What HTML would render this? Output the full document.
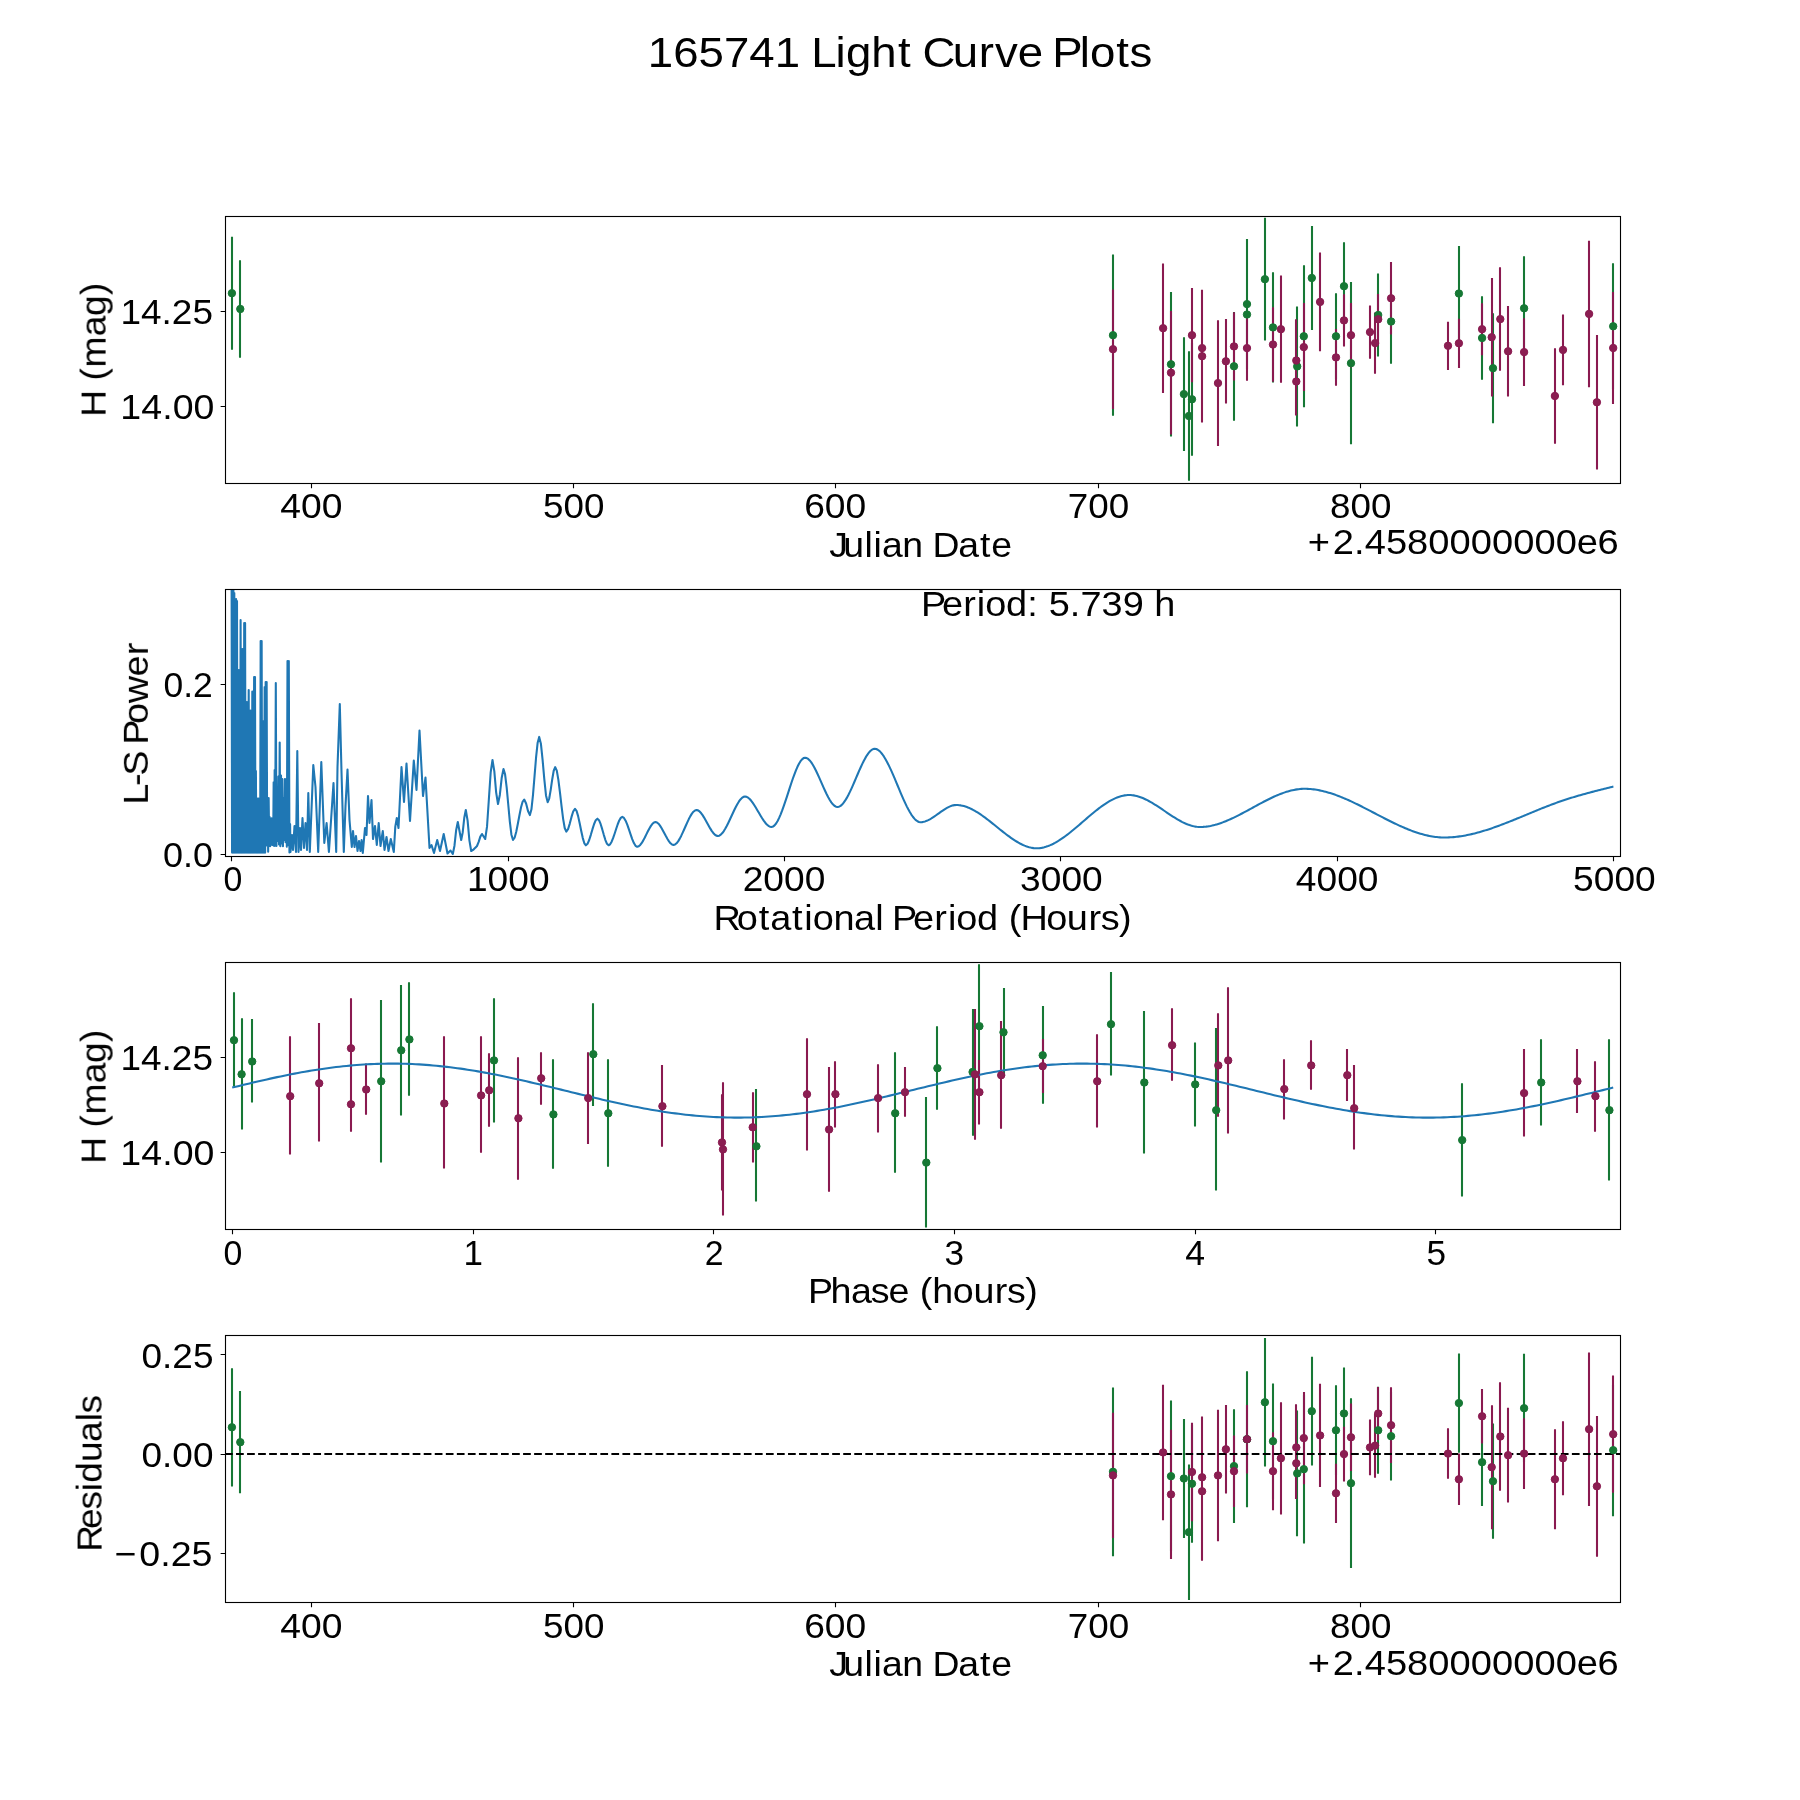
<!DOCTYPE html><html><head><meta charset="utf-8"><title>165741 Light Curve Plots</title>
<style>html,body{margin:0;padding:0;background:#fff;width:1800px;height:1800px;overflow:hidden}svg{display:block}text{font-family:"Liberation Sans",sans-serif;fill:#000}</style></head><body>
<svg width="1800" height="1800" viewBox="0 0 1800 1800">
<rect width="1800" height="1800" fill="#fff"/>
<defs>
<clipPath id="c0"><rect x="225" y="216.0" width="1395" height="266.54"/></clipPath>
<clipPath id="c1"><rect x="225" y="589.15" width="1395" height="266.5400000000001"/></clipPath>
<clipPath id="c2"><rect x="225" y="962.31" width="1395" height="266.53999999999996"/></clipPath>
<clipPath id="c3"><rect x="225" y="1335.46" width="1395" height="266.53999999999996"/></clipPath>
</defs>
<g class="plot">
<path d="M232 236.7V349.7M240 260.2V357.8M1113 254.6V415.8M1171 292.1V436.5M1184 337.3V450.9M1189 351.3V480.7M1192 342.9V455.7M1234 311.9V420.7M1247 239.1V369.1M1247 264.5V364.5M1265 217.8V340.6M1273 272.2V382.6M1297 306.4V426.4M1304 265.3V407.3M1312 226.1V329.9M1336 293.2V379.4M1344 242.2V330.2M1351 282.1V444.3M1378 273.4V356.6M1391 279.3V363.7M1459 246.1V340.9M1482 296.25V379.75M1493 313.2V423.2M1524 256.2V360.4M1613 263.2V389.4" stroke="#167835" stroke-width="2.08" fill="none" clip-path="url(#c0)"/>
<path d="M1113 289.4V409M1163 263.5V392.9M1171 311V434.4M1192 288.1V382.3M1202 290.1V406.1M1202 289.8V422.6M1218 320.3V445.9M1226 319.1V403.5M1234 312.3V380.5M1247 315.4V380.8M1273 307.2V381.8M1281 275.6V382.8M1296 319.2V401.8M1296 347.4V415.6M1304 303.1V391.1M1320 252.5V351.3M1336 329.1V385.7M1344 294.2V346.6M1351 303V367.4M1370 305.4V358.8M1378 294V344.6M1375 312.4V373.8M1391 262.1V334.5M1448 321.7V369.9M1459 318.7V367.9M1482 303.2V355.2M1492 278V396.4M1500 267.35V370.85M1508 306.05V396.55M1524 318.3V385.9M1555 348.2V443.8M1563 314.5V385.3M1589 240.65V387.15M1597 335.05V469.55M1613 292V404" stroke="#8a1a50" stroke-width="2.08" fill="none" clip-path="url(#c0)"/>
<g fill="#167834" stroke="#167835" stroke-width="1.0" clip-path="url(#c0)">
<circle cx="231.9" cy="293.2" r="3.7"/>
<circle cx="240.3" cy="309" r="3.7"/>
<circle cx="1113" cy="335.2" r="3.7"/>
<circle cx="1171" cy="364.3" r="3.7"/>
<circle cx="1183.9" cy="394.1" r="3.7"/>
<circle cx="1188.9" cy="416" r="3.7"/>
<circle cx="1192" cy="399.3" r="3.7"/>
<circle cx="1234" cy="366.3" r="3.7"/>
<circle cx="1247" cy="304.1" r="3.7"/>
<circle cx="1247" cy="314.5" r="3.7"/>
<circle cx="1264.9" cy="279.2" r="3.7"/>
<circle cx="1273" cy="327.4" r="3.7"/>
<circle cx="1297.2" cy="366.4" r="3.7"/>
<circle cx="1303.8" cy="336.3" r="3.7"/>
<circle cx="1311.8" cy="278" r="3.7"/>
<circle cx="1336" cy="336.3" r="3.7"/>
<circle cx="1344" cy="286.2" r="3.7"/>
<circle cx="1351" cy="363.2" r="3.7"/>
<circle cx="1378.2" cy="315" r="3.7"/>
<circle cx="1391.1" cy="321.5" r="3.7"/>
<circle cx="1458.9" cy="293.5" r="3.7"/>
<circle cx="1482.1" cy="338" r="3.7"/>
<circle cx="1493" cy="368.2" r="3.7"/>
<circle cx="1524.1" cy="308.3" r="3.7"/>
<circle cx="1613.2" cy="326.3" r="3.7"/>
</g>
<g fill="#8b1e52" stroke="#8a1a50" stroke-width="1.0" clip-path="url(#c0)">
<circle cx="1113" cy="349.2" r="3.7"/>
<circle cx="1163.1" cy="328.2" r="3.7"/>
<circle cx="1171" cy="372.7" r="3.7"/>
<circle cx="1192" cy="335.2" r="3.7"/>
<circle cx="1202.1" cy="348.1" r="3.7"/>
<circle cx="1202.1" cy="356.2" r="3.7"/>
<circle cx="1218" cy="383.1" r="3.7"/>
<circle cx="1225.9" cy="361.3" r="3.7"/>
<circle cx="1234" cy="346.4" r="3.7"/>
<circle cx="1247" cy="348.1" r="3.7"/>
<circle cx="1273" cy="344.5" r="3.7"/>
<circle cx="1280.9" cy="329.2" r="3.7"/>
<circle cx="1296.3" cy="360.5" r="3.7"/>
<circle cx="1296.3" cy="381.5" r="3.7"/>
<circle cx="1303.8" cy="347.1" r="3.7"/>
<circle cx="1320.1" cy="301.9" r="3.7"/>
<circle cx="1336" cy="357.4" r="3.7"/>
<circle cx="1344" cy="320.4" r="3.7"/>
<circle cx="1351" cy="335.2" r="3.7"/>
<circle cx="1370" cy="332.1" r="3.7"/>
<circle cx="1378.2" cy="319.3" r="3.7"/>
<circle cx="1375.1" cy="343.1" r="3.7"/>
<circle cx="1391.1" cy="298.3" r="3.7"/>
<circle cx="1448" cy="345.8" r="3.7"/>
<circle cx="1458.9" cy="343.3" r="3.7"/>
<circle cx="1482.1" cy="329.2" r="3.7"/>
<circle cx="1491.7" cy="337.2" r="3.7"/>
<circle cx="1500.3" cy="319.1" r="3.7"/>
<circle cx="1508.1" cy="351.3" r="3.7"/>
<circle cx="1524.1" cy="352.1" r="3.7"/>
<circle cx="1554.9" cy="396" r="3.7"/>
<circle cx="1563" cy="349.9" r="3.7"/>
<circle cx="1589.1" cy="313.9" r="3.7"/>
<circle cx="1596.9" cy="402.3" r="3.7"/>
<circle cx="1613.2" cy="348" r="3.7"/>
</g>
<path d="M231.6 584.04L232.05 852.6L232.5 584.04L232.95 852.6L233.4 584.04L233.85 852.6L234.3 593.04L234.75 852.6L235.2 599.04L235.65 852.6L236.1 599.04L236.55 852.6L237 601.04L237.45 852.6L237.9 670.04L238.35 852.6L238.8 670.04L239.25 852.6L239.7 670.04L240.15 852.6L240.6 620.04L241.05 852.6L241.5 649.04L241.95 852.6L242.4 649.04L242.85 852.6L243.3 649.04L243.75 852.6L244.2 623.04L244.65 852.6L245.1 623.04L245.55 852.6L246 702.04L246.45 852.6L246.9 702.04L247.35 852.6L247.8 702.04L248.25 852.6L248.7 690.04L249.15 852.6L249.6 710.54L250.05 852.6L250.5 710.54L250.95 852.6L251.4 710.54L251.85 852.6L252.3 691.44L252.75 852.6L253.2 691.44L253.65 852.6L254.1 677.04L254.55 852.6L255 677.04L255.45 852.6L255.9 771.04L256.35 852.6L256.8 798.54L257.25 852.6L257.7 798.54L258.15 852.6L258.65 798.54L259.15 852.6L259.65 812.2L260.15 852.6L260.65 641.04L261.15 852.6L261.65 641.04L262.15 852.6L262.65 721.04L263.15 852.6L263.65 721.04L264.15 852.6L264.65 687.04L265.15 852.6L265.65 682.04L266.15 845.6L266.65 682.04L267.15 841.35L267.65 798.04L268.15 851.68L268.65 798.04L269.15 839.87L269.65 817.04L270.15 846.27L270.65 832.64L271.15 844.19L271.65 818.24L272.15 844.92L272.65 820.54L273.15 845.27L273.65 782.34L274.15 846.05L274.65 770.04L275.15 845.73L275.8 683.04L276.45 845.92L277.1 808.04L277.75 840.87L278.4 776.52L279.05 844.58L279.7 742.54L280.35 846.26L281 775.54L281.65 843.4L282.3 779.04L282.95 846.17L283.6 798.47L284.25 839.91L284.9 779.04L285.55 842.22L286.2 779.04L286.85 846.63L287.5 661.04L288.15 845.28L288.8 661.04L289.45 852.58L290.1 824.04L290.5 852L292 835L293 850L294.5 826L296 852L297.3 751L298.5 852L300 828L301 850L302.5 818L304 848L305.5 823L307 850L308.3 793L309.8 852L313.3 765L315.5 787L318.2 852L321.3 762L324.3 843L326.6 823L328.9 852L331.2 818L333.5 783L336.2 852L337.5 767L339.8 704L341.5 772L343.8 852L345.5 806L347.5 769.5L349.5 820L351.8 847L353 831L354.5 847L356 836L357.5 851L359 841L360.5 851L361.6 840L362.8 853L365 828L366.5 835L368 796L369.5 823L371.5 800L373 839L375 826L376.8 845L378.7 823L380.5 846L382.8 831L384.5 850L386.5 837L388.5 851L390.8 839L393.8 852L395.3 826.63L396.8 818L397.65 823L398.5 828L400 797.5L401.5 767L402.75 784.5L404 802L405.25 782.75L406.5 763.5L408.25 792.25L410 821L411.9 790.75L413.8 760.5L415.15 775.25L416.5 790L418 760.25L419.5 730.5L421.25 763.25L423 796L424.25 786.75L425.5 777.5L427.5 812.75L429.5 848L430.5 846.5L431.5 845L432.75 849L434 853L435.6 846.5L437.2 840L438.6 845.5L440 851L441.85 842.5L443.7 834L445.6 843.75L447.5 853.5L449 852L450.5 850.5L451.65 852.25L452.8 854L454.47 845.7L456.13 830.3L457.8 822L459.5 831L461.2 840L462.73 832.22L464.27 817.78L465.8 810L467.6 820.63L469.4 840.37L471.2 851L473.1 849.92L475 848L476 847.11L477 846L478.67 841.9L480.33 836.62L482 834L483.6 836.5L485.2 839L487.02 826.66L488.85 799.5L490.68 772.34L492.5 760L494.33 771.41L496.17 792.59L498 804L499.83 794.93L501.67 778.07L503.5 769L505.08 774.26L506.67 787.41L508.25 804.5L509.83 821.59L511.42 834.74L513 840L514.6 837.76L516.2 831.97L517.8 824.06L519.4 815.44L521 807.53L522.6 801.74L524.2 799.5L526.1 803.54L528 811.06L529.9 815.1L531.45 809.31L533 794.83L534.55 776L536.1 757.17L537.65 742.69L539.2 736.9L540.9 743.69L542.6 759.89L544.3 779.21L546 795.41L547.7 802.2L549.2 798.55L550.7 789.84L552.2 779.46L553.7 770.75L555.2 767.1L556.79 770.67L558.37 779.89L559.96 792.49L561.54 806.21L563.13 818.81L564.71 828.03L566.3 831.6L568.04 829.24L569.78 823.61L571.52 816.89L573.26 811.26L575 808.9L576.56 810.92L578.11 816.12L579.67 823.23L581.23 830.97L582.79 838.08L584.34 843.28L585.9 845.3L587.54 843.83L589.19 840.03L590.83 834.83L592.47 829.17L594.11 823.97L595.76 820.17L597.4 818.7L599 820.17L600.6 823.97L602.2 829.17L603.8 834.83L605.4 840.03L607 843.83L608.6 845.3L610.12 844.33L611.64 841.72L613.17 837.94L614.69 833.46L616.21 828.74L617.73 824.26L619.26 820.48L620.78 817.87L622.3 816.9L623.96 817.93L625.61 820.67L627.27 824.65L628.92 829.37L630.58 834.33L632.23 839.05L633.89 843.03L635.54 845.77L637.2 846.8L638.73 846.31L640.25 844.96L641.78 842.92L643.3 840.37L644.83 837.47L646.35 834.4L647.88 831.33L649.4 828.43L650.92 825.88L652.45 823.84L653.98 822.49L655.5 822L657 822.45L658.5 823.7L660 825.59L661.5 827.96L663 830.65L664.5 833.5L666 836.35L667.5 839.04L669 841.41L670.5 843.3L672 844.55L673.5 845L675.03 844.55L676.57 843.3L678.1 841.36L679.63 838.86L681.17 835.93L682.7 832.68L684.23 829.25L685.77 825.75L687.3 822.32L688.83 819.07L690.37 816.14L691.9 813.64L693.43 811.7L694.97 810.45L696.5 810L698.02 810.38L699.54 811.44L701.06 813.07L702.59 815.15L704.11 817.58L705.63 820.23L707.15 823L708.67 825.77L710.19 828.42L711.71 830.85L713.24 832.93L714.76 834.56L716.28 835.62L717.8 836L719.31 835.65L720.82 834.65L722.33 833.07L723.84 831.02L725.36 828.55L726.87 825.76L728.38 822.72L729.89 819.53L731.4 816.25L732.91 812.97L734.42 809.78L735.93 806.74L737.44 803.95L738.96 801.48L740.47 799.43L741.98 797.85L743.49 796.85L745 796.5L746.56 796.8L748.12 797.67L749.68 799.01L751.24 800.77L752.79 802.86L754.35 805.22L755.91 807.76L757.47 810.41L759.03 813.09L760.59 815.74L762.15 818.28L763.71 820.64L765.26 822.73L766.82 824.49L768.38 825.83L769.94 826.7L771.5 827L773.03 826.58L774.55 825.39L776.08 823.49L777.61 820.96L779.14 817.89L780.66 814.35L782.19 810.42L783.72 806.17L785.25 801.7L786.77 797.06L788.3 792.35L789.83 787.64L791.35 783L792.88 778.53L794.41 774.28L795.94 770.35L797.46 766.81L798.99 763.74L800.52 761.21L802.05 759.31L803.57 758.12L805.1 757.7L806.64 758.02L808.19 758.96L809.73 760.43L811.27 762.38L812.81 764.75L814.36 767.47L815.9 770.48L817.44 773.71L818.99 777.1L820.53 780.59L822.07 784.11L823.61 787.6L825.16 790.99L826.7 794.22L828.24 797.23L829.79 799.95L831.33 802.32L832.87 804.27L834.41 805.74L835.96 806.68L837.5 807L839.05 806.71L840.6 805.85L842.15 804.5L843.7 802.69L845.25 800.47L846.8 797.91L848.35 795.03L849.9 791.91L851.45 788.59L853 785.11L854.55 781.53L856.1 777.9L857.65 774.27L859.2 770.69L860.75 767.21L862.3 763.89L863.85 760.77L865.4 757.89L866.95 755.33L868.5 753.11L870.05 751.3L871.6 749.95L873.15 749.09L874.7 748.8L876.23 749.04L877.75 749.74L879.28 750.86L880.81 752.37L882.33 754.24L883.86 756.43L885.39 758.92L886.91 761.67L888.44 764.65L889.97 767.83L891.49 771.17L893.02 774.64L894.55 778.2L896.07 781.84L897.6 785.5L899.13 789.16L900.65 792.8L902.18 796.36L903.71 799.83L905.23 803.17L906.76 806.35L908.29 809.33L909.81 812.08L911.34 814.57L912.87 816.76L914.39 818.63L915.92 820.14L917.45 821.26L918.97 821.96L920.5 822.2L922.06 822.11L923.61 821.83L925.17 821.4L926.73 820.82L928.28 820.11L929.84 819.3L931.4 818.39L932.95 817.4L934.51 816.36L936.07 815.27L937.62 814.16L939.18 813.04L940.73 811.93L942.29 810.84L943.85 809.8L945.4 808.81L946.96 807.9L948.52 807.09L950.07 806.38L951.63 805.8L953.19 805.37L954.74 805.09L956.3 805L957.82 805.05L959.33 805.18L960.85 805.4L962.37 805.7L963.88 806.08L965.4 806.54L966.92 807.07L968.44 807.66L969.95 808.32L971.47 809.04L972.99 809.82L974.5 810.65L976.02 811.54L977.54 812.47L979.05 813.44L980.57 814.46L982.09 815.51L983.61 816.59L985.12 817.7L986.64 818.84L988.16 820.01L989.67 821.19L991.19 822.39L992.71 823.6L994.22 824.81L995.74 826.04L997.26 827.26L998.78 828.49L1000.29 829.7L1001.81 830.91L1003.33 832.11L1004.84 833.29L1006.36 834.46L1007.88 835.6L1009.39 836.71L1010.91 837.79L1012.43 838.84L1013.95 839.86L1015.46 840.83L1016.98 841.76L1018.5 842.65L1020.01 843.48L1021.53 844.26L1023.05 844.98L1024.56 845.64L1026.08 846.23L1027.6 846.76L1029.12 847.22L1030.63 847.6L1032.15 847.9L1033.67 848.12L1035.18 848.25L1036.7 848.3L1038.22 848.26L1039.73 848.13L1041.25 847.93L1042.77 847.64L1044.28 847.28L1045.8 846.85L1047.31 846.36L1048.83 845.79L1050.35 845.16L1051.86 844.47L1053.38 843.73L1054.9 842.92L1056.41 842.07L1057.93 841.17L1059.45 840.22L1060.96 839.22L1062.48 838.19L1064 837.12L1065.51 836.01L1067.03 834.87L1068.54 833.7L1070.06 832.5L1071.58 831.28L1073.09 830.04L1074.61 828.78L1076.13 827.51L1077.64 826.22L1079.16 824.92L1080.68 823.61L1082.19 822.31L1083.71 820.99L1085.22 819.69L1086.74 818.38L1088.26 817.08L1089.77 815.79L1091.29 814.52L1092.81 813.26L1094.32 812.02L1095.84 810.8L1097.36 809.6L1098.87 808.43L1100.39 807.29L1101.9 806.18L1103.42 805.11L1104.94 804.08L1106.45 803.08L1107.97 802.13L1109.49 801.23L1111 800.38L1112.52 799.57L1114.04 798.83L1115.55 798.14L1117.07 797.51L1118.59 796.94L1120.1 796.45L1121.62 796.02L1123.13 795.66L1124.65 795.37L1126.17 795.17L1127.68 795.04L1129.2 795L1130.71 795.04L1132.21 795.17L1133.72 795.37L1135.23 795.66L1136.73 796.01L1138.24 796.43L1139.74 796.92L1141.25 797.47L1142.76 798.07L1144.26 798.73L1145.77 799.44L1147.28 800.19L1148.78 800.99L1150.29 801.83L1151.8 802.7L1153.3 803.6L1154.81 804.53L1156.31 805.49L1157.82 806.46L1159.33 807.45L1160.83 808.46L1162.34 809.47L1163.85 810.49L1165.35 811.51L1166.86 812.53L1168.37 813.54L1169.87 814.55L1171.38 815.54L1172.89 816.51L1174.39 817.47L1175.9 818.4L1177.4 819.3L1178.91 820.17L1180.42 821.01L1181.92 821.81L1183.43 822.56L1184.94 823.27L1186.44 823.93L1187.95 824.53L1189.46 825.08L1190.96 825.57L1192.47 825.99L1193.97 826.34L1195.48 826.63L1196.99 826.83L1198.49 826.96L1200 827L1201.52 826.98L1203.03 826.91L1204.55 826.79L1206.06 826.63L1207.58 826.43L1209.1 826.18L1210.61 825.9L1212.13 825.58L1213.64 825.22L1215.16 824.83L1216.68 824.4L1218.19 823.94L1219.71 823.44L1221.22 822.92L1222.74 822.37L1224.26 821.79L1225.77 821.19L1227.29 820.56L1228.8 819.91L1230.32 819.23L1231.83 818.54L1233.35 817.83L1234.87 817.1L1236.38 816.35L1237.9 815.59L1239.41 814.82L1240.93 814.03L1242.45 813.23L1243.96 812.43L1245.48 811.62L1246.99 810.8L1248.51 809.97L1250.03 809.14L1251.54 808.32L1253.06 807.48L1254.57 806.66L1256.09 805.83L1257.61 805L1259.12 804.18L1260.64 803.37L1262.15 802.57L1263.67 801.77L1265.19 800.98L1266.7 800.21L1268.22 799.45L1269.73 798.7L1271.25 797.97L1272.77 797.26L1274.28 796.57L1275.8 795.89L1277.31 795.24L1278.83 794.61L1280.34 794.01L1281.86 793.43L1283.38 792.88L1284.89 792.36L1286.41 791.86L1287.92 791.4L1289.44 790.97L1290.96 790.58L1292.47 790.22L1293.99 789.9L1295.5 789.62L1297.02 789.37L1298.54 789.17L1300.05 789.01L1301.57 788.89L1303.08 788.82L1304.6 788.8L1306.1 788.82L1307.61 788.87L1309.11 788.95L1310.61 789.06L1312.12 789.21L1313.62 789.38L1315.12 789.59L1316.63 789.82L1318.13 790.08L1319.63 790.37L1321.14 790.68L1322.64 791.02L1324.14 791.39L1325.65 791.78L1327.15 792.19L1328.65 792.63L1330.15 793.09L1331.66 793.57L1333.16 794.07L1334.66 794.59L1336.17 795.13L1337.67 795.69L1339.17 796.26L1340.68 796.86L1342.18 797.47L1343.68 798.09L1345.19 798.73L1346.69 799.39L1348.19 800.05L1349.7 800.73L1351.2 801.43L1352.7 802.13L1354.21 802.84L1355.71 803.57L1357.21 804.3L1358.72 805.04L1360.22 805.79L1361.72 806.55L1363.23 807.31L1364.73 808.08L1366.23 808.85L1367.74 809.63L1369.24 810.41L1370.74 811.19L1372.25 811.97L1373.75 812.76L1375.25 813.54L1376.75 814.33L1378.26 815.11L1379.76 815.89L1381.26 816.67L1382.77 817.45L1384.27 818.22L1385.77 818.99L1387.28 819.75L1388.78 820.51L1390.28 821.26L1391.79 822L1393.29 822.73L1394.79 823.46L1396.3 824.17L1397.8 824.87L1399.3 825.57L1400.81 826.25L1402.31 826.91L1403.81 827.57L1405.32 828.21L1406.82 828.83L1408.32 829.44L1409.83 830.04L1411.33 830.61L1412.83 831.17L1414.34 831.71L1415.84 832.23L1417.34 832.73L1418.85 833.21L1420.35 833.67L1421.85 834.11L1423.35 834.52L1424.86 834.91L1426.36 835.28L1427.86 835.62L1429.37 835.93L1430.87 836.22L1432.37 836.48L1433.88 836.71L1435.38 836.92L1436.88 837.09L1438.39 837.24L1439.89 837.35L1441.39 837.43L1442.9 837.48L1444.4 837.5L1445.92 837.49L1447.43 837.45L1448.95 837.4L1450.46 837.32L1451.98 837.22L1453.49 837.09L1455.01 836.95L1456.52 836.79L1458.04 836.6L1459.55 836.4L1461.07 836.18L1462.58 835.93L1464.1 835.68L1465.61 835.4L1467.12 835.1L1468.64 834.79L1470.15 834.46L1471.67 834.12L1473.18 833.76L1474.7 833.39L1476.22 833L1477.73 832.59L1479.25 832.18L1480.76 831.75L1482.28 831.3L1483.79 830.85L1485.31 830.38L1486.82 829.9L1488.34 829.41L1489.85 828.91L1491.37 828.4L1492.88 827.87L1494.39 827.34L1495.91 826.8L1497.42 826.25L1498.94 825.7L1500.45 825.13L1501.97 824.56L1503.48 823.98L1505 823.4L1506.51 822.81L1508.01 822.22L1509.52 821.62L1511.02 821.02L1512.53 820.42L1514.03 819.81L1515.54 819.2L1517.04 818.58L1518.55 817.96L1520.06 817.34L1521.56 816.72L1523.07 816.1L1524.57 815.47L1526.08 814.85L1527.58 814.22L1529.09 813.6L1530.59 812.97L1532.1 812.35L1533.61 811.73L1535.11 811.11L1536.62 810.49L1538.12 809.88L1539.63 809.27L1541.13 808.66L1542.64 808.06L1544.14 807.46L1545.65 806.87L1547.16 806.28L1548.66 805.69L1550.17 805.12L1551.67 804.54L1553.18 803.98L1554.68 803.42L1556.19 802.87L1557.69 802.33L1559.2 801.8L1560.71 801.28L1562.21 800.76L1563.72 800.25L1565.22 799.75L1566.73 799.26L1568.23 798.78L1569.74 798.3L1571.24 797.83L1572.75 797.37L1574.26 796.92L1575.76 796.47L1577.27 796.03L1578.77 795.59L1580.28 795.16L1581.78 794.73L1583.29 794.31L1584.79 793.89L1586.3 793.48L1587.81 793.08L1589.31 792.67L1590.82 792.27L1592.32 791.88L1593.83 791.49L1595.33 791.1L1596.84 790.71L1598.34 790.33L1599.85 789.95L1601.36 789.57L1602.86 789.2L1604.37 788.82L1605.87 788.45L1607.38 788.08L1608.88 787.71L1610.39 787.34L1611.89 786.97L1613.4 786.6" fill="none" stroke="#1f77b4" stroke-width="2.08" stroke-linejoin="round" clip-path="url(#c1)"/>
<path d="M234 992.3V1086.4M242 1018.3V1129.5M252 1019.1V1102.4M381 1000.1V1162.6M401 985V1115.5M409 982.2V1095.7M494 998.2V1122.6M553 1059.2V1168.8M593 1003.2V1105.9M608 1059.2V1166.8M756 1089.1V1201.5M895 1052.2V1172.7M926 1097V1227.5M937 1026.2V1109.7M973 1009.1V1135.7M979 964.3V1088.1M1004 988.1V1076.5M1043 1006V1103.8M1111 972.1V1075.5M1144 1011V1153.6M1195 1042.4V1126.5M1216 1028.1V1190.6M1462 1083.3V1196.5M1541 1039.3V1125.6M1609 1039.3V1180.5" stroke="#167835" stroke-width="2.08" fill="none" clip-path="url(#c2)"/>
<path d="M290 1036.2V1154.5M319 1023.1V1141.6M351 998.2V1098.4M351 1076.8V1131.8M366 1063.4V1114.7M444 1036.2V1168.5M481 1036.2V1152.8M489 1053.3V1126.8M518 1057.3V1179.7M541 1052.2V1104.8M588 1052.2V1144M662 1065.1V1146.8M722 1094.2V1190.6M723 1082.2V1215.5M753 1092.2V1162.6M807 1038.2V1150.6M829 1067V1191.7M835 1061.2V1127.6M878 1064.2V1132.6M905 1067V1116.7M975 1009.1V1139.8M979 1060V1124.5M1001 1021.1V1128.7M1043 1039V1093.1M1097 1034.3V1127.6M1172 1008.2V1080.7M1218 1013.3V1116.7M1228 987.2V1133.5M1284 1059.2V1119.5M1311 1040.2V1089.7M1347 1049.1V1100.9M1354 1065.1V1149.4M1524 1049.1V1136.5M1577 1049.1V1112.9M1595 1061.2V1131.8" stroke="#8a1a50" stroke-width="2.08" fill="none" clip-path="url(#c2)"/>
<path d="M232.2 1087.58L235.66 1086.73L239.12 1085.89L242.58 1085.06L246.04 1084.23L249.51 1083.41L252.97 1082.59L256.43 1081.78L259.89 1080.98L263.35 1080.19L266.81 1079.41L270.27 1078.64L273.73 1077.89L277.19 1077.14L280.66 1076.41L284.12 1075.7L287.58 1075L291.04 1074.31L294.5 1073.64L297.96 1072.99L301.42 1072.35L304.88 1071.73L308.35 1071.14L311.81 1070.56L315.27 1070L318.73 1069.46L322.19 1068.94L325.65 1068.44L329.11 1067.97L332.57 1067.52L336.03 1067.09L339.5 1066.68L342.96 1066.3L346.42 1065.94L349.88 1065.61L353.34 1065.3L356.8 1065.02L360.26 1064.76L363.72 1064.53L367.18 1064.32L370.65 1064.14L374.11 1063.98L377.57 1063.86L381.03 1063.76L384.49 1063.68L387.95 1063.63L391.41 1063.61L394.87 1063.62L398.34 1063.65L401.8 1063.71L405.26 1063.79L408.72 1063.91L412.18 1064.05L415.64 1064.21L419.1 1064.4L422.56 1064.62L426.02 1064.86L429.49 1065.13L432.95 1065.43L436.41 1065.75L439.87 1066.09L443.33 1066.46L446.79 1066.85L450.25 1067.26L453.71 1067.7L457.17 1068.17L460.64 1068.65L464.1 1069.15L467.56 1069.68L471.02 1070.23L474.48 1070.8L477.94 1071.38L481.4 1071.99L484.86 1072.62L488.33 1073.26L491.79 1073.92L495.25 1074.6L498.71 1075.29L502.17 1076L505.63 1076.72L509.09 1077.46L512.55 1078.2L516.01 1078.97L519.48 1079.74L522.94 1080.52L526.4 1081.32L529.86 1082.12L533.32 1082.93L536.78 1083.75L540.24 1084.58L543.7 1085.41L547.16 1086.25L550.63 1087.09L554.09 1087.93L557.55 1088.78L561.01 1089.63L564.47 1090.48L567.93 1091.33L571.39 1092.18L574.85 1093.03L578.32 1093.87L581.78 1094.72L585.24 1095.56L588.7 1096.39L592.16 1097.22L595.62 1098.04L599.08 1098.85L602.54 1099.66L606 1100.46L609.47 1101.24L612.93 1102.02L616.39 1102.79L619.85 1103.54L623.31 1104.28L626.77 1105.01L630.23 1105.72L633.69 1106.42L637.15 1107.1L640.62 1107.76L644.08 1108.41L647.54 1109.04L651 1109.66L654.46 1110.25L657.92 1110.83L661.38 1111.38L664.84 1111.91L668.31 1112.43L671.77 1112.92L675.23 1113.39L678.69 1113.83L682.15 1114.26L685.61 1114.66L689.07 1115.03L692.53 1115.38L695.99 1115.71L699.46 1116.01L702.92 1116.29L706.38 1116.54L709.84 1116.77L713.3 1116.97L716.76 1117.14L720.22 1117.29L723.68 1117.41L727.14 1117.51L730.61 1117.57L734.07 1117.62L737.53 1117.63L740.99 1117.62L744.45 1117.58L747.91 1117.51L751.37 1117.42L754.83 1117.3L758.3 1117.16L761.76 1116.98L765.22 1116.79L768.68 1116.56L772.14 1116.31L775.6 1116.04L779.06 1115.74L782.52 1115.41L785.98 1115.06L789.45 1114.69L792.91 1114.29L796.37 1113.87L799.83 1113.42L803.29 1112.96L806.75 1112.47L810.21 1111.96L813.67 1111.42L817.13 1110.87L820.6 1110.3L824.06 1109.71L827.52 1109.09L830.98 1108.46L834.44 1107.82L837.9 1107.15L841.36 1106.47L844.82 1105.78L848.29 1105.06L851.75 1104.34L855.21 1103.6L858.67 1102.85L862.13 1102.08L865.59 1101.31L869.05 1100.52L872.51 1099.72L875.97 1098.92L879.44 1098.1L882.9 1097.28L886.36 1096.46L889.82 1095.62L893.28 1094.78L896.74 1093.94L900.2 1093.1L903.66 1092.25L907.12 1091.4L910.59 1090.55L914.05 1089.7L917.51 1088.85L920.97 1088L924.43 1087.15L927.89 1086.31L931.35 1085.48L934.81 1084.64L938.28 1083.82L941.74 1083L945.2 1082.18L948.66 1081.38L952.12 1080.59L955.58 1079.8L959.04 1079.03L962.5 1078.27L965.96 1077.52L969.43 1076.78L972.89 1076.05L976.35 1075.35L979.81 1074.65L983.27 1073.97L986.73 1073.31L990.19 1072.67L993.65 1072.04L997.11 1071.43L1000.58 1070.84L1004.04 1070.27L1007.5 1069.72L1010.96 1069.2L1014.42 1068.69L1017.88 1068.2L1021.34 1067.74L1024.8 1067.3L1028.27 1066.88L1031.73 1066.49L1035.19 1066.12L1038.65 1065.77L1042.11 1065.45L1045.57 1065.15L1049.03 1064.88L1052.49 1064.64L1055.95 1064.42L1059.42 1064.23L1062.88 1064.06L1066.34 1063.92L1069.8 1063.8L1073.26 1063.71L1076.72 1063.65L1080.18 1063.62L1083.64 1063.61L1087.1 1063.63L1090.57 1063.68L1094.03 1063.75L1097.49 1063.85L1100.95 1063.97L1104.41 1064.13L1107.87 1064.3L1111.33 1064.51L1114.79 1064.74L1118.26 1064.99L1121.72 1065.28L1125.18 1065.58L1128.64 1065.91L1132.1 1066.27L1135.56 1066.65L1139.02 1067.05L1142.48 1067.48L1145.94 1067.93L1149.41 1068.4L1152.87 1068.9L1156.33 1069.42L1159.79 1069.95L1163.25 1070.51L1166.71 1071.09L1170.17 1071.69L1173.63 1072.3L1177.09 1072.94L1180.56 1073.59L1184.02 1074.26L1187.48 1074.94L1190.94 1075.64L1194.4 1076.36L1197.86 1077.09L1201.32 1077.83L1204.78 1078.58L1208.25 1079.35L1211.71 1080.13L1215.17 1080.92L1218.63 1081.72L1222.09 1082.52L1225.55 1083.34L1229.01 1084.16L1232.47 1084.99L1235.93 1085.83L1239.4 1086.67L1242.86 1087.51L1246.32 1088.36L1249.78 1089.2L1253.24 1090.05L1256.7 1090.9L1260.16 1091.76L1263.62 1092.6L1267.08 1093.45L1270.55 1094.3L1274.01 1095.14L1277.47 1095.97L1280.93 1096.8L1284.39 1097.63L1287.85 1098.45L1291.31 1099.26L1294.77 1100.06L1298.24 1100.85L1301.7 1101.63L1305.16 1102.4L1308.62 1103.16L1312.08 1103.91L1315.54 1104.64L1319 1105.36L1322.46 1106.07L1325.92 1106.76L1329.39 1107.43L1332.85 1108.09L1336.31 1108.73L1339.77 1109.35L1343.23 1109.96L1346.69 1110.54L1350.15 1111.11L1353.61 1111.65L1357.07 1112.17L1360.54 1112.67L1364 1113.15L1367.46 1113.61L1370.92 1114.05L1374.38 1114.46L1377.84 1114.85L1381.3 1115.21L1384.76 1115.55L1388.23 1115.87L1391.69 1116.16L1395.15 1116.42L1398.61 1116.66L1402.07 1116.87L1405.53 1117.06L1408.99 1117.22L1412.45 1117.35L1415.91 1117.46L1419.38 1117.54L1422.84 1117.6L1426.3 1117.63L1429.76 1117.63L1433.22 1117.6L1436.68 1117.55L1440.14 1117.47L1443.6 1117.36L1447.06 1117.23L1450.53 1117.07L1453.99 1116.89L1457.45 1116.68L1460.91 1116.44L1464.37 1116.18L1467.83 1115.89L1471.29 1115.58L1474.75 1115.24L1478.22 1114.88L1481.68 1114.49L1485.14 1114.08L1488.6 1113.65L1492.06 1113.19L1495.52 1112.71L1498.98 1112.21L1502.44 1111.69L1505.9 1111.15L1509.37 1110.59L1512.83 1110L1516.29 1109.4L1519.75 1108.78L1523.21 1108.14L1526.67 1107.49L1530.13 1106.81L1533.59 1106.13L1537.05 1105.42L1540.52 1104.7L1543.98 1103.97L1547.44 1103.22L1550.9 1102.47L1554.36 1101.7L1557.82 1100.91L1561.28 1100.12L1564.74 1099.32L1568.21 1098.51L1571.67 1097.7L1575.13 1096.87L1578.59 1096.04L1582.05 1095.2L1585.51 1094.36L1588.97 1093.52L1592.43 1092.67L1595.89 1091.82L1599.36 1090.97L1602.82 1090.12L1606.28 1089.27L1609.74 1088.42L1613.2 1087.58" fill="none" stroke="#1f77b4" stroke-width="2.08" stroke-linejoin="round" clip-path="url(#c2)"/>
<g fill="#167834" stroke="#167835" stroke-width="1.0" clip-path="url(#c2)">
<circle cx="234" cy="1040.2" r="3.7"/>
<circle cx="241.6" cy="1074.3" r="3.7"/>
<circle cx="252.2" cy="1061.5" r="3.7"/>
<circle cx="381.2" cy="1081.3" r="3.7"/>
<circle cx="401.2" cy="1050.3" r="3.7"/>
<circle cx="409.4" cy="1039.4" r="3.7"/>
<circle cx="494" cy="1060.4" r="3.7"/>
<circle cx="553.4" cy="1114.4" r="3.7"/>
<circle cx="593.3" cy="1054.2" r="3.7"/>
<circle cx="608.3" cy="1113.3" r="3.7"/>
<circle cx="756.4" cy="1146.3" r="3.7"/>
<circle cx="895.2" cy="1113.3" r="3.7"/>
<circle cx="926.3" cy="1162.6" r="3.7"/>
<circle cx="937.4" cy="1068.2" r="3.7"/>
<circle cx="972.6" cy="1072" r="3.7"/>
<circle cx="979.4" cy="1026.2" r="3.7"/>
<circle cx="1003.5" cy="1032.3" r="3.7"/>
<circle cx="1042.7" cy="1055.3" r="3.7"/>
<circle cx="1111" cy="1024.2" r="3.7"/>
<circle cx="1144.3" cy="1082.5" r="3.7"/>
<circle cx="1195.2" cy="1084.4" r="3.7"/>
<circle cx="1216.2" cy="1110.2" r="3.7"/>
<circle cx="1462.2" cy="1140.1" r="3.7"/>
<circle cx="1541.2" cy="1082.5" r="3.7"/>
<circle cx="1609.4" cy="1110.2" r="3.7"/>
</g>
<g fill="#8b1e52" stroke="#8a1a50" stroke-width="1.0" clip-path="url(#c2)">
<circle cx="290.2" cy="1096.2" r="3.7"/>
<circle cx="319.2" cy="1083.3" r="3.7"/>
<circle cx="351" cy="1048.3" r="3.7"/>
<circle cx="351" cy="1104.3" r="3.7"/>
<circle cx="366.2" cy="1089.5" r="3.7"/>
<circle cx="444.3" cy="1103.5" r="3.7"/>
<circle cx="481.1" cy="1095.4" r="3.7"/>
<circle cx="489.2" cy="1090.3" r="3.7"/>
<circle cx="518.4" cy="1118.3" r="3.7"/>
<circle cx="541.2" cy="1078.3" r="3.7"/>
<circle cx="588.2" cy="1098.1" r="3.7"/>
<circle cx="662.4" cy="1106.2" r="3.7"/>
<circle cx="722" cy="1142.4" r="3.7"/>
<circle cx="723" cy="1149.4" r="3.7"/>
<circle cx="752.7" cy="1127.3" r="3.7"/>
<circle cx="807" cy="1094.2" r="3.7"/>
<circle cx="829.1" cy="1129.5" r="3.7"/>
<circle cx="835.4" cy="1094.2" r="3.7"/>
<circle cx="878.1" cy="1098.1" r="3.7"/>
<circle cx="905" cy="1092.2" r="3.7"/>
<circle cx="975" cy="1074.4" r="3.7"/>
<circle cx="979.4" cy="1092.2" r="3.7"/>
<circle cx="1001.2" cy="1075.2" r="3.7"/>
<circle cx="1042.7" cy="1066.2" r="3.7"/>
<circle cx="1097.2" cy="1081.3" r="3.7"/>
<circle cx="1172.1" cy="1045.2" r="3.7"/>
<circle cx="1218.3" cy="1065.4" r="3.7"/>
<circle cx="1228.2" cy="1060.4" r="3.7"/>
<circle cx="1284.3" cy="1089.1" r="3.7"/>
<circle cx="1311.2" cy="1065.4" r="3.7"/>
<circle cx="1347.3" cy="1075.2" r="3.7"/>
<circle cx="1354.2" cy="1108.2" r="3.7"/>
<circle cx="1524.1" cy="1093.1" r="3.7"/>
<circle cx="1577.4" cy="1081.3" r="3.7"/>
<circle cx="1595.4" cy="1096.2" r="3.7"/>
</g>
<path d="M232 1368.15V1486.45M240 1391.11V1493.29M1113 1387.42V1556.18M1171 1400.62V1551.78M1184 1419.04V1537.96M1189 1464.47V1599.93M1192 1424.66V1542.74M1234 1409.15V1523.05M1247 1371.26V1507.34M1247 1386.96V1491.64M1265 1338.02V1466.58M1273 1383.41V1498.99M1297 1410.59V1536.21M1304 1394.87V1543.53M1312 1356.87V1465.53M1336 1385.18V1475.42M1344 1367.44V1459.56M1351 1398.3V1568.1M1378 1386.75V1473.85M1391 1392.02V1480.38M1459 1353.48V1452.72M1482 1418.49V1505.91M1493 1423.62V1538.78M1524 1353.66V1462.74M1613 1384.14V1516.26" stroke="#167835" stroke-width="2.08" fill="none" clip-path="url(#c3)"/>
<path d="M1113 1412.8V1538M1163 1384.67V1520.13M1171 1429.81V1558.99M1192 1422.69V1521.31M1202 1416.58V1538.02M1202 1421.79V1560.81M1218 1409.66V1541.14M1226 1405.12V1493.48M1234 1435.5V1506.9M1247 1405.07V1473.53M1273 1432.15V1510.25M1281 1402.19V1514.41M1296 1404.17V1490.63M1296 1427.6V1499M1304 1392.04V1484.16M1320 1383.69V1487.11M1336 1463.67V1522.93M1344 1426.67V1481.53M1351 1403.59V1471.01M1370 1419.45V1475.35M1378 1387.01V1439.99M1375 1413.46V1477.74M1391 1387.3V1463.1M1448 1428.37V1478.83M1459 1453.55V1505.05M1482 1389.08V1443.52M1492 1405.23V1529.17M1500 1382.33V1490.67M1508 1407.83V1502.57M1524 1418.22V1488.98M1555 1429.26V1529.34M1563 1421.24V1495.36M1589 1352.52V1505.88M1597 1415.9V1556.7M1613 1375.58V1492.82" stroke="#8a1a50" stroke-width="2.08" fill="none" clip-path="url(#c3)"/>
<path d="M225 1454H1620" stroke="#000" stroke-width="2.08" stroke-dasharray="7.71 3.33" fill="none"/>
<g fill="#167834" stroke="#167835" stroke-width="1.0" clip-path="url(#c3)">
<circle cx="231.9" cy="1427.3" r="3.7"/>
<circle cx="240.3" cy="1442.2" r="3.7"/>
<circle cx="1113" cy="1471.8" r="3.7"/>
<circle cx="1171" cy="1476.2" r="3.7"/>
<circle cx="1183.9" cy="1478.5" r="3.7"/>
<circle cx="1188.9" cy="1532.2" r="3.7"/>
<circle cx="1192" cy="1483.7" r="3.7"/>
<circle cx="1234" cy="1466.1" r="3.7"/>
<circle cx="1247" cy="1439.3" r="3.7"/>
<circle cx="1247" cy="1439.3" r="3.7"/>
<circle cx="1264.9" cy="1402.3" r="3.7"/>
<circle cx="1273" cy="1441.2" r="3.7"/>
<circle cx="1297.2" cy="1473.4" r="3.7"/>
<circle cx="1303.8" cy="1469.2" r="3.7"/>
<circle cx="1311.8" cy="1411.2" r="3.7"/>
<circle cx="1336" cy="1430.3" r="3.7"/>
<circle cx="1344" cy="1413.5" r="3.7"/>
<circle cx="1351" cy="1483.2" r="3.7"/>
<circle cx="1378.2" cy="1430.3" r="3.7"/>
<circle cx="1391.1" cy="1436.2" r="3.7"/>
<circle cx="1458.9" cy="1403.1" r="3.7"/>
<circle cx="1482.1" cy="1462.2" r="3.7"/>
<circle cx="1493" cy="1481.2" r="3.7"/>
<circle cx="1524.1" cy="1408.2" r="3.7"/>
<circle cx="1613.2" cy="1450.2" r="3.7"/>
</g>
<g fill="#8b1e52" stroke="#8a1a50" stroke-width="1.0" clip-path="url(#c3)">
<circle cx="1113" cy="1475.4" r="3.7"/>
<circle cx="1163.1" cy="1452.4" r="3.7"/>
<circle cx="1171" cy="1494.4" r="3.7"/>
<circle cx="1192" cy="1472" r="3.7"/>
<circle cx="1202.1" cy="1477.3" r="3.7"/>
<circle cx="1202.1" cy="1491.3" r="3.7"/>
<circle cx="1218" cy="1475.4" r="3.7"/>
<circle cx="1225.9" cy="1449.3" r="3.7"/>
<circle cx="1234" cy="1471.2" r="3.7"/>
<circle cx="1247" cy="1439.3" r="3.7"/>
<circle cx="1273" cy="1471.2" r="3.7"/>
<circle cx="1280.9" cy="1458.3" r="3.7"/>
<circle cx="1296.3" cy="1447.4" r="3.7"/>
<circle cx="1296.3" cy="1463.3" r="3.7"/>
<circle cx="1303.8" cy="1438.1" r="3.7"/>
<circle cx="1320.1" cy="1435.4" r="3.7"/>
<circle cx="1336" cy="1493.3" r="3.7"/>
<circle cx="1344" cy="1454.1" r="3.7"/>
<circle cx="1351" cy="1437.3" r="3.7"/>
<circle cx="1370" cy="1447.4" r="3.7"/>
<circle cx="1378.2" cy="1413.5" r="3.7"/>
<circle cx="1375.1" cy="1445.6" r="3.7"/>
<circle cx="1391.1" cy="1425.2" r="3.7"/>
<circle cx="1448" cy="1453.6" r="3.7"/>
<circle cx="1458.9" cy="1479.3" r="3.7"/>
<circle cx="1482.1" cy="1416.3" r="3.7"/>
<circle cx="1491.7" cy="1467.2" r="3.7"/>
<circle cx="1500.3" cy="1436.5" r="3.7"/>
<circle cx="1508.1" cy="1455.2" r="3.7"/>
<circle cx="1524.1" cy="1453.6" r="3.7"/>
<circle cx="1554.9" cy="1479.3" r="3.7"/>
<circle cx="1563" cy="1458.3" r="3.7"/>
<circle cx="1589.1" cy="1429.2" r="3.7"/>
<circle cx="1596.9" cy="1486.3" r="3.7"/>
<circle cx="1613.2" cy="1434.2" r="3.7"/>
</g>
<rect x="225.5" y="216.5" width="1395" height="267" fill="none" stroke="#000" stroke-width="1.11"/>
<rect x="225.5" y="589.5" width="1395" height="267" fill="none" stroke="#000" stroke-width="1.11"/>
<rect x="225.5" y="962.5" width="1395" height="267" fill="none" stroke="#000" stroke-width="1.11"/>
<rect x="225.5" y="1335.5" width="1395" height="267" fill="none" stroke="#000" stroke-width="1.11"/>
<path d="M311.5 483.5v4.86M573.5 483.5v4.86M835.5 483.5v4.86M1098.5 483.5v4.86M1360.5 483.5v4.86" stroke="#000" stroke-width="1.11"/>
<path d="M225.5 311.5h-4.86M225.5 406.5h-4.86" stroke="#000" stroke-width="1.11"/>
<path d="M231.5 856.5v4.86M508.5 856.5v4.86M784.5 856.5v4.86M1060.5 856.5v4.86M1337.5 856.5v4.86M1613.5 856.5v4.86" stroke="#000" stroke-width="1.11"/>
<path d="M225.5 854.5h-4.86M225.5 684.5h-4.86" stroke="#000" stroke-width="1.11"/>
<path d="M232.5 1229.5v4.86M473.5 1229.5v4.86M713.5 1229.5v4.86M954.5 1229.5v4.86M1195.5 1229.5v4.86M1435.5 1229.5v4.86" stroke="#000" stroke-width="1.11"/>
<path d="M225.5 1057.5h-4.86M225.5 1152.5h-4.86" stroke="#000" stroke-width="1.11"/>
<path d="M311.5 1602.5v4.86M573.5 1602.5v4.86M835.5 1602.5v4.86M1098.5 1602.5v4.86M1360.5 1602.5v4.86" stroke="#000" stroke-width="1.11"/>
<path d="M225.5 1354.5h-4.86M225.5 1454.5h-4.86M225.5 1553.5h-4.86" stroke="#000" stroke-width="1.11"/>
</g>
<g opacity="0.999">
<text transform="translate(647.796,67.186) scale(0.45583,0.42720)" font-size="100" x="0.03 55.70 111.38 167.05 222.73 278.40 334.07 358.43 411.67 434.90 490.40 549.20 580.27 602.51 669.09 725.97 761.50 811.50 866.25 887.08 947.86 970.09 1027.93 1056.77">165741 Light Curve Plots</text>
<text transform="translate(833.640,556.988) scale(0.37369,0.35600)" font-size="100" x="-12.08 25.80 82.43 106.78 129.09 183.70 239.31 264.75 333.63 391.57 421.78">Julian Date</text>
<text transform="translate(105.988,415.576) rotate(-90) scale(0.37288,0.35600)" font-size="100" x="-3.17 65.92 94.18 128.94 212.30 266.96 323.01">H (mag)</text>
<text transform="translate(280.231,517.920) scale(0.37228,0.35600)" font-size="100" x="0.06 55.81 111.55">400</text>
<text transform="translate(543.005,517.920) scale(0.36778,0.35600)" font-size="100" x="0.06 55.81 111.55">500</text>
<text transform="translate(804.115,517.920) scale(0.37213,0.35600)" font-size="100" x="0.06 55.81 111.55">600</text>
<text transform="translate(1067.637,517.920) scale(0.36792,0.35600)" font-size="100" x="0.06 55.81 111.55">700</text>
<text transform="translate(1330.005,517.920) scale(0.36778,0.35600)" font-size="100" x="0.06 55.81 111.55">800</text>
<text transform="translate(120.350,418.920) scale(0.37510,0.35600)" font-size="100" x="0.06 55.81 111.52 139.40 195.15">14.00</text>
<text transform="translate(120.391,323.920) scale(0.36928,0.35600)" font-size="100" x="0.06 55.81 111.52 139.40 195.15">14.25</text>
<text transform="translate(715.617,929.988) scale(0.37900,0.35600)" font-size="100" x="-5.67 55.94 113.83 143.94 201.88 234.01 256.28 310.85 365.46 421.18 444.49 465.38 521.01 577.13 612.85 635.13 689.74 745.39 773.64 804.22 872.26 926.83 983.77 1016.25 1064.52">Rotational Period (Hours)</text>
<text transform="translate(147.920,803.412) rotate(-90) scale(0.37762,0.35600)" font-size="100" x="-3.40 46.33 73.25 134.44 155.32 210.80 265.14 336.22 392.34">L-S Power</text>
<text transform="translate(223.462,890.920) scale(0.33857,0.35600)" font-size="100" x="0.06">0</text>
<text transform="translate(466.878,890.920) scale(0.37111,0.35600)" font-size="100" x="0.06 55.81 111.55 167.30">1000</text>
<text transform="translate(742.620,890.920) scale(0.37123,0.35600)" font-size="100" x="0.06 55.81 111.55 167.30">2000</text>
<text transform="translate(1019.991,890.920) scale(0.37123,0.35600)" font-size="100" x="0.06 55.81 111.55 167.30">3000</text>
<text transform="translate(1295.733,890.920) scale(0.37127,0.35600)" font-size="100" x="0.06 55.81 111.55 167.30">4000</text>
<text transform="translate(1572.991,890.920) scale(0.37123,0.35600)" font-size="100" x="0.06 55.81 111.55 167.30">5000</text>
<text transform="translate(162.897,866.920) scale(0.35986,0.35600)" font-size="100" x="0.06 55.78 83.66">0.0</text>
<text transform="translate(163.414,696.920) scale(0.35429,0.35600)" font-size="100" x="0.06 55.78 83.66">0.2</text>
<text transform="translate(810.598,1302.988) scale(0.37623,0.35600)" font-size="100" x="-6.93 52.79 107.40 159.88 206.85 261.64 289.90 323.60 378.17 432.74 489.67 522.16 570.42">Phase (hours)</text>
<text transform="translate(105.988,1162.576) rotate(-90) scale(0.37288,0.35600)" font-size="100" x="-3.17 65.92 94.18 128.94 212.30 266.96 323.01">H (mag)</text>
<text transform="translate(223.462,1264.920) scale(0.33857,0.35600)" font-size="100" x="0.06">0</text>
<text transform="translate(463.528,1264.564) scale(0.34992,0.35600)" font-size="100" x="0.06">1</text>
<text transform="translate(704.789,1264.920) scale(0.33775,0.35600)" font-size="100" x="0.06">2</text>
<text transform="translate(944.571,1264.920) scale(0.35163,0.35600)" font-size="100" x="0.06">3</text>
<text transform="translate(1185.265,1264.920) scale(0.35590,0.35600)" font-size="100" x="0.06">4</text>
<text transform="translate(1426.571,1264.564) scale(0.35163,0.35600)" font-size="100" x="0.06">5</text>
<text transform="translate(120.350,1164.920) scale(0.37510,0.35600)" font-size="100" x="0.06 55.81 111.52 139.40 195.15">14.00</text>
<text transform="translate(120.391,1069.920) scale(0.36928,0.35600)" font-size="100" x="0.06 55.81 111.52 139.40 195.15">14.25</text>
<text transform="translate(833.640,1675.988) scale(0.37369,0.35600)" font-size="100" x="-12.08 25.80 82.43 106.78 129.09 183.70 239.31 264.75 333.63 391.57 421.78">Julian Date</text>
<text transform="translate(101.988,1549.782) rotate(-90) scale(0.37080,0.35600)" font-size="100" x="-5.67 56.09 108.67 157.56 180.84 236.41 291.02 346.74 367.84">Residuals</text>
<text transform="translate(280.231,1637.920) scale(0.37228,0.35600)" font-size="100" x="0.06 55.81 111.55">400</text>
<text transform="translate(543.005,1637.920) scale(0.36778,0.35600)" font-size="100" x="0.06 55.81 111.55">500</text>
<text transform="translate(804.115,1637.920) scale(0.37213,0.35600)" font-size="100" x="0.06 55.81 111.55">600</text>
<text transform="translate(1067.637,1637.920) scale(0.36792,0.35600)" font-size="100" x="0.06 55.81 111.55">700</text>
<text transform="translate(1330.005,1637.920) scale(0.36778,0.35600)" font-size="100" x="0.06 55.81 111.55">800</text>
<text transform="translate(111.679,1565.920) scale(0.37549,0.35600)" font-size="100" x="7.51 73.48 129.19 157.07 212.82">−0.25</text>
<text transform="translate(141.367,1466.920) scale(0.36979,0.35600)" font-size="100" x="0.06 55.78 83.66 139.40">0.00</text>
<text transform="translate(141.367,1367.920) scale(0.36974,0.35600)" font-size="100" x="0.06 55.78 83.66 139.40">0.25</text>
<text transform="translate(923.595,616.088) scale(0.37879,0.35600)" font-size="100" x="-6.93 48.70 104.82 140.54 162.82 217.43 273.91 302.60 330.48 386.19 414.08 469.82 525.56 581.28 609.05">Period: 5.739 h</text>
<text transform="translate(1304.817,554.020) scale(0.38092,0.35600)" font-size="100" x="7.51 73.48 129.19 157.07 212.82 268.56 324.31 380.05 435.80 491.54 547.28 603.03 658.77 713.60 768.42">+2.4580000000e6</text>
<text transform="translate(1304.817,1674.520) scale(0.38092,0.35600)" font-size="100" x="7.51 73.48 129.19 157.07 212.82 268.56 324.31 380.05 435.80 491.54 547.28 603.03 658.77 713.60 768.42">+2.4580000000e6</text>
</g>
</svg></body></html>
